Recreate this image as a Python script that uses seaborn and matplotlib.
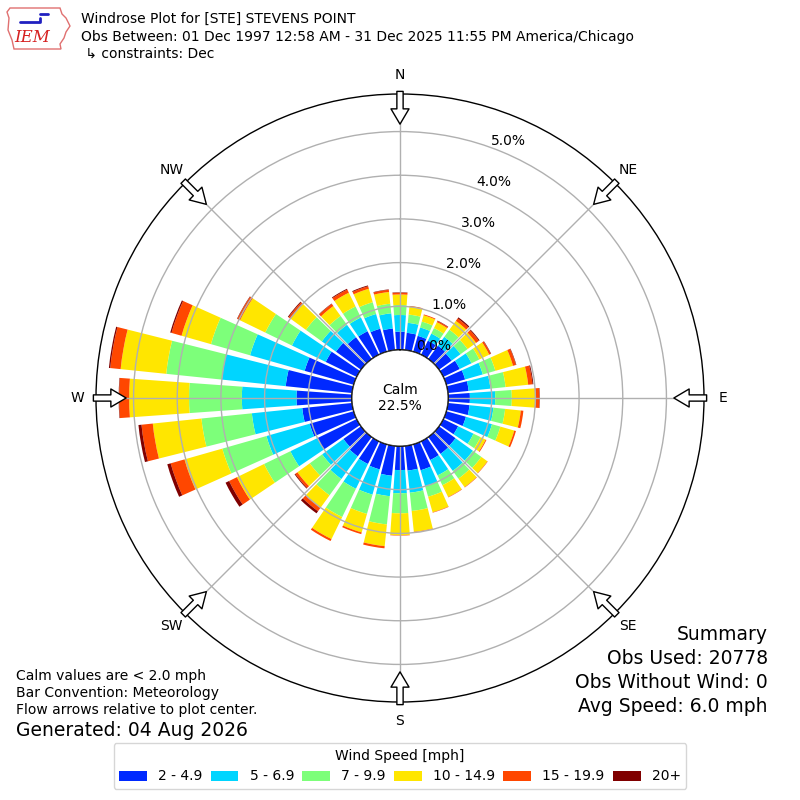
import numpy as np
import matplotlib
matplotlib.use("Agg")
import matplotlib.pyplot as plt
from matplotlib.patches import Patch, FancyArrowPatch, Polygon
import seaborn as sns

# ---------------- data (percent of observations) ----------------
directions = [0, 10, 20, 30, 40, 50, 60, 70, 80, 90, 100, 110, 120, 130, 140, 150, 160, 170,
              180, 190, 200, 210, 220, 230, 240, 250, 260, 270, 280, 290, 300, 310, 320, 330, 340, 350]
speed_labels = ["2 - 4.9", "5 - 6.9", "7 - 9.9", "10 - 14.9", "15 - 19.9", "20+"]

spd_2_49 = [0.42, 0.40, 0.38, 0.36, 0.38, 0.36, 0.42, 0.45, 0.48, 0.50, 0.50, 0.47, 0.38, 0.47, 0.48, 0.48, 0.62, 0.57,
            0.55, 0.69, 0.60, 0.58, 0.55, 0.50, 1.00, 1.05, 1.15, 1.27, 1.53, 1.17, 0.79, 0.71, 0.62, 0.60, 0.55, 0.50]
spd_5_69 = [0.38, 0.23, 0.20, 0.18, 0.25, 0.25, 0.30, 0.42, 0.50, 0.58, 0.55, 0.62, 0.39, 0.49, 0.48, 0.39, 0.38, 0.51,
            0.53, 0.47, 0.60, 0.63, 0.64, 0.60, 0.69, 1.03, 1.16, 1.25, 1.47, 1.30, 0.86, 0.40, 0.35, 0.35, 0.35, 0.35]
spd_7_99 = [0.23, 0.19, 0.14, 0.14, 0.20, 0.20, 0.20, 0.30, 0.35, 0.38, 0.27, 0.20, 0.18, 0.24, 0.22, 0.25, 0.25, 0.42,
            0.46, 0.65, 0.46, 0.72, 0.46, 0.35, 0.67, 1.05, 1.16, 1.21, 1.28, 0.93, 0.68, 0.45, 0.25, 0.28, 0.28, 0.22]
spd_10_149 = [0.24, 0.18, 0.15, 0.15, 0.25, 0.24, 0.25, 0.42, 0.52, 0.53, 0.36, 0.33, 0.13, 0.17, 0.24, 0.30, 0.37, 0.48,
              0.50, 0.50, 0.44, 0.56, 0.35, 0.35, 0.69, 0.90, 1.12, 1.37, 1.05, 0.70, 0.64, 0.43, 0.28, 0.35, 0.32, 0.27]
spd_15_199 = [0.04, 0.02, 0.02, 0.03, 0.07, 0.08, 0.04, 0.07, 0.10, 0.10, 0.06, 0.04, 0.02, 0.01, 0.01, 0.01, 0.01, 0.01,
              0.01, 0.05, 0.04, 0.05, 0.10, 0.06, 0.20, 0.33, 0.26, 0.23, 0.24, 0.24, 0.07, 0.06, 0.06, 0.08, 0.06, 0.05]
spd_20_up = [0.01, 0.00, 0.00, 0.01, 0.03, 0.02, 0.01, 0.01, 0.02, 0.01, 0.00, 0.00, 0.00, 0.00, 0.00, 0.00, 0.00, 0.00,
             0.00, 0.00, 0.00, 0.00, 0.06, 0.02, 0.09, 0.08, 0.07, 0.01, 0.03, 0.03, 0.01, 0.02, 0.01, 0.02, 0.02, 0.01]

calm_pct = 22.5
ring_ticks = [0, 1, 2, 3, 4, 5]
compass_angles = [0, 45, 90, 135, 180, 225, 270, 315]
compass_labels = ["N", "NE", "E", "SE", "S", "SW", "W", "NW"]

title_lines = ["Windrose Plot for [STE] STEVENS POINT",
               "Obs Between: 01 Dec 1997 12:58 AM - 31 Dec 2025 11:55 PM America/Chicago",
               " \u21b3 constraints: Dec"]
left_notes = ["Calm values are < 2.0 mph", "Bar Convention: Meteorology",
              "Flow arrows relative to plot center."]
generated = "Generated: 04 Aug 2026"
summary_lines = ["Summary", "Obs Used: 20778", "Obs Without Wind: 0", "Avg Speed: 6.0 mph"]

# ---------------- style ----------------
sns.set_style("white")
plt.rcParams["font.family"] = ["DejaVu Sans"]
plt.rcParams["text.color"] = "black"
plt.rcParams["xtick.color"] = "black"
plt.rcParams["ytick.color"] = "black"
plt.rcParams["xtick.labelcolor"] = "black"
plt.rcParams["ytick.labelcolor"] = "black"

W, H = 800, 800
fig = plt.figure(figsize=(8, 8), dpi=100)
ax = fig.add_axes([0.12, 0.1225, 0.76, 0.76], projection="polar")
ax.set_theta_zero_location("N")
ax.set_theta_direction(-1)

cmap = plt.get_cmap("jet")
colors = sns.color_palette([cmap(i / 6.0) for i in range(1, 7)])

theta = np.radians(directions)
series = [spd_2_49, spd_5_69, spd_7_99, spd_10_149, spd_15_199, spd_20_up]
bottom = np.zeros(len(directions))
for vals, col, lab in zip(series, colors, speed_labels):
    vals = np.asarray(vals)
    ax.bar(theta, vals, width=np.radians(8.2), bottom=bottom, color=col,
           edgecolor="none", linewidth=0, label=lab, zorder=1)
    bottom += vals

rorigin = -1.1
ax.set_rorigin(rorigin)
ax.set_ylim(0, 5.86)

ax.set_yticks(ring_ticks)
ax.set_yticklabels([f"{v:.1f}%" for v in ring_ticks], fontsize=10, color="black")
ax.set_rlabel_position(20)
ax.set_xticks(np.radians(compass_angles))
ax.set_xticklabels(compass_labels, fontsize=10, color="black")
ax.tick_params(axis="x", pad=3)
ax.grid(True, color="#b0b0b0", linewidth=1)
ax.set_axisbelow(False)
ax.spines["polar"].set_color("black")
ax.spines["polar"].set_linewidth(1.0)

# calm circle
tt = np.linspace(0, 2 * np.pi, 361)
ax.plot(tt, np.zeros_like(tt), color="black", lw=1.2, zorder=4)
ax.text(0.5, 0.5, f"Calm\n{calm_pct:.1f}%", transform=ax.transAxes,
        ha="center", va="center", fontsize=10, zorder=5, color="black")

# compass flow arrows (hollow, pointing to centre)
for a in compass_angles:
    arr = FancyArrowPatch(posA=(np.radians(a), 5.92), posB=(np.radians(a), 5.17),
                          transform=ax.transData,
                          arrowstyle="simple,head_length=1.1,head_width=1.3,tail_width=0.45",
                          mutation_scale=10, facecolor="white", edgecolor="black",
                          linewidth=1, shrinkA=0, shrinkB=0, zorder=6)
    ax.add_patch(arr)
    arr.set_clip_on(False)

# ---------------- texts ----------------
def ft(x, y, s, **kw):
    kw.setdefault("color", "black")
    fig.text(x / W, 1 - y / H, s, **kw)

ys = [19, 37, 54]
for s, y in zip(title_lines, ys):
    ft(81, y, s, fontsize=10, ha="left", va="center")

# IEM logo (approximation)
logo_ax = fig.add_axes([0.0, 1 - 52 / H, 80 / W, 52 / H])
logo_ax.set_xlim(0, 80)
logo_ax.set_ylim(52, 0)
logo_ax.axis("off")
outline = [(10, 8), (60, 8), (62, 14), (66, 18), (70, 26), (66, 32), (64, 38), (60, 44),
           (61, 49), (14, 49), (12, 40), (8, 30), (9, 18), (7, 12)]
logo_ax.add_patch(Polygon(outline, closed=True, facecolor="none", edgecolor="#e07070", lw=1))
logo_ax.plot([20, 40, 40], [22, 22, 18], color="#2020c0", lw=2)
logo_ax.plot([40, 48], [14, 14], color="#2020c0", lw=2)
logo_ax.text(32, 38, "IEM", fontsize=12, color="#d62020", style="italic",
             family="DejaVu Serif", ha="center", va="center")

for s, y in zip(left_notes, [676, 693, 710]):
    ft(16, y, s, fontsize=10, ha="left", va="center")
ft(16, 730, generated, fontsize=13.5, ha="left", va="center")

for s, y in zip(summary_lines, [635, 659, 682, 706]):
    ft(768, y, s, fontsize=13.5, ha="right", va="center")

handles = [Patch(facecolor=c, edgecolor="none") for c in colors]
leg = fig.legend(handles, speed_labels, title="Wind Speed [mph]", ncol=6,
                 loc="lower center", bbox_to_anchor=(0.5, 0.005), fontsize=10,
                 title_fontsize=10, columnspacing=0.6, frameon=True,
                 handlelength=2.0, handletextpad=0.8)
leg.get_frame().set_edgecolor("#cccccc")
for t in leg.get_texts():
    t.set_color("black")
leg.get_title().set_color("black")

fig.savefig("out.png", dpi=100)
